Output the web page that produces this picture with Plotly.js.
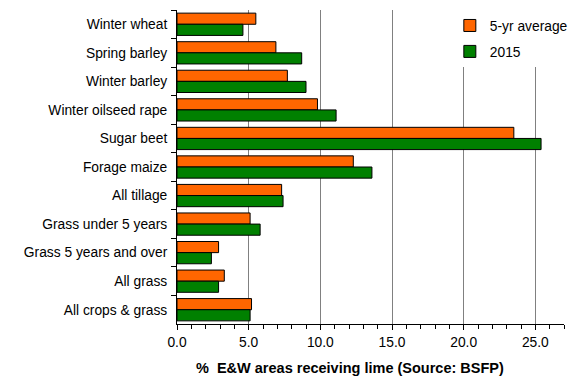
<!DOCTYPE html>
<html><head><meta charset="utf-8">
<script src="https://cdn.plot.ly/plotly-3.0.1.min.js"></script>
<style>html,body{margin:0;padding:0;background:#fff}</style>
</head><body>
<div id="chart" style="width:583px;height:389px"></div>
<script>
const categories = ["Winter wheat","Spring barley","Winter barley","Winter oilseed rape","Sugar beet","Forage maize","All tillage","Grass under 5 years","Grass 5 years and over","All grass","All crops & grass"];
const avg5yr = [5.5, 6.9, 7.7, 9.8, 23.5, 12.3, 7.3, 5.1, 2.9, 3.3, 5.2];
const y2015 = [4.6, 8.7, 9.0, 11.1, 25.4, 13.6, 7.4, 5.8, 2.4, 2.9, 5.1];
const seriesNames = ["5-yr average", "2015"];
const xTitle = "%  E&W areas receiving lime (Source: BSFP)";

const font = "Liberation Sans, Arial, sans-serif";
const fs = 13.8;
const data = [
  {type:'bar', orientation:'h', name:seriesNames[0], legendgroup:'a', y:categories, x:avg5yr,
   marker:{color:'#FF6600', line:{color:'#000', width:1}}},
  {type:'bar', orientation:'h', name:seriesNames[1], legendgroup:'b', y:categories, x:y2015,
   marker:{color:'#008000', line:{color:'#000', width:1}}}
];
const layout = {
  width:583, height:389,
  margin:{l:177, r:19, t:10, b:65},
  paper_bgcolor:'#fff', plot_bgcolor:'#fff',
  font:{family:font, size:fs, color:'#000'},
  barmode:'group', bargap:0.22, bargroupgap:0,
  showlegend:true,
  legend:{x:0.705, y:1.0, xanchor:'left', yanchor:'top', bgcolor:'#fff',
          font:{family:font, size:fs}, traceorder:'grouped', tracegroupgap:5, itemwidth:30},
  xaxis:{range:[0,27], dtick:5, tickformat:'.1f', showgrid:true, gridcolor:'#808080', gridwidth:1,
         zeroline:false, showline:true, linecolor:'#000', linewidth:1,
         ticks:'outside', ticklen:5, tickcolor:'#000',
         minor:{dtick:1, ticks:'outside', ticklen:4, tickcolor:'#000', showgrid:false},
         tickfont:{family:font, size:fs}},
  yaxis:{autorange:'reversed', type:'category', showline:true, linecolor:'#000', linewidth:1,
         ticks:'outside', tickson:'boundaries', ticklen:5, tickcolor:'#000', showgrid:false,
         ticklabelstandoff:6, tickfont:{family:font, size:fs}},
  annotations:[{text:'<b>'+xTitle+'</b>', xref:'paper', yref:'paper', x:0.447, y:-0.108,
                xanchor:'center', yanchor:'top', showarrow:false, font:{family:font, size:14.5}}]
};
Plotly.newPlot('chart', data, layout, {displayModeBar:false, staticPlot:true});
</script>
</body></html>
